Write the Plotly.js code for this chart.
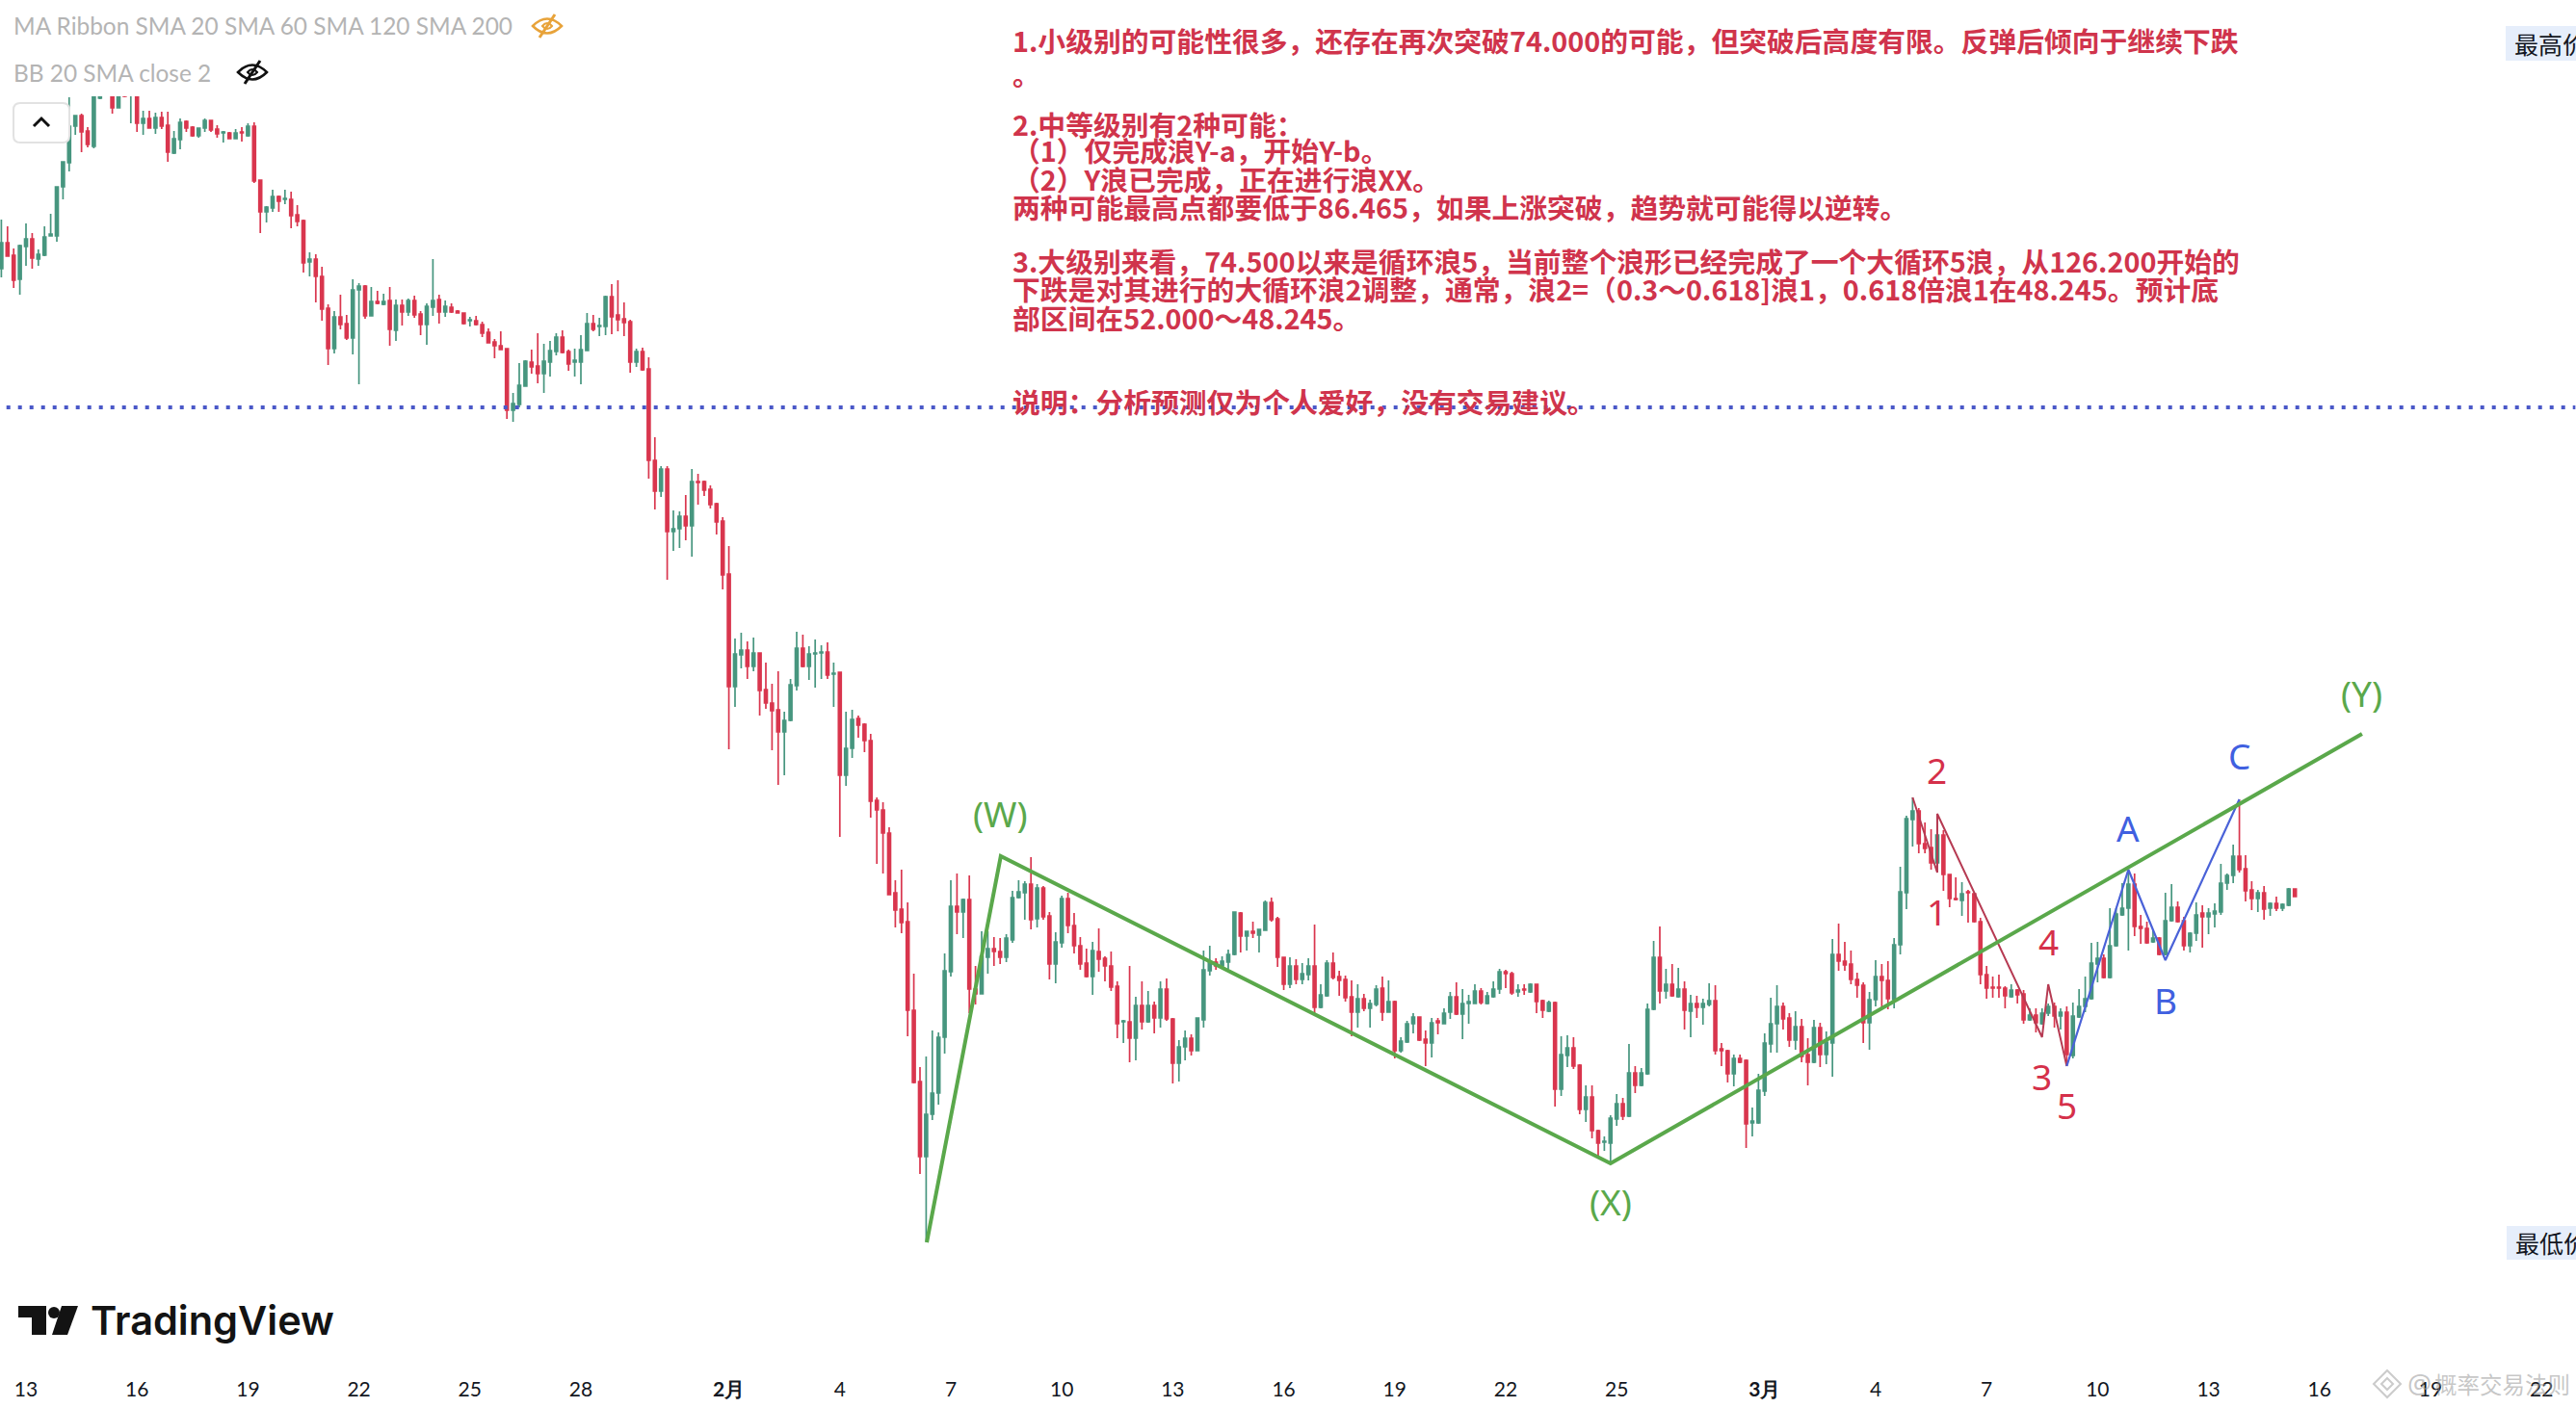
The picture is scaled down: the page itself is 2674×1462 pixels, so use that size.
<!DOCTYPE html>
<html><head><meta charset="utf-8">
<script src="https://cdn.plot.ly/plotly-3.0.1.min.js"></script>
<style>html,body{margin:0;padding:0;background:#fff;overflow:hidden}#c{width:2674px;height:1462px}</style>
</head><body><div id="c"></div>
<script>
// Candle values in price ticks. price = tickBase + tick * tickSize. 4-hour bars; the first bar opens 2023-01-12 08:00.
const tickBase = 59.54, tickSize = 0.025;
const firstBar = Date.UTC(2023,0,12,8), barMs = 4*3600*1000;
const opens = [1221,1248,1235,1210,1244,1252,1231,1235,1255,1255,
1306,1331,1369,1380,1364,1348,1398,1404,1415,1388,
1420,1404,1415,1372,1377,1367,1378,1370,1341,1355,
1374,1368,1359,1367,1375,1366,1362,1362,1356,1363,
1359,1369,1313,1280,1284,1296,1293,1293,1277,1271,
1228,1231,1213,1180,1138,1171,1164,1149,1199,1203,
1172,1187,1184,1188,1157,1183,1176,1188,1174,1163,
1181,1189,1176,1181,1177,1175,1167,1167,1163,1155,
1145,1141,1138,1074,1080,1099,1124,1120,1112,1124,
1135,1150,1135,1124,1124,1136,1164,1161,1161,1192,
1173,1169,1166,1124,1135,1117,1022,990,1013,948,
951,964,954,1000,1000,992,977,959,904,787,
820,825,808,822,784,770,763,740,752,788,
827,808,821,822,823,800,802,695,723,754,
748,731,669,659,635,573,556,543,451,377,
299,343,365,423,491,559,553,566,473,468,
506,515,512,506,524,568,573,582,546,578,
549,499,521,567,539,518,500,486,512,505,
497,476,439,439,422,456,439,456,443,473,
442,396,413,422,409,441,492,501,497,501,
509,552,528,533,529,534,563,546,506,478,
497,483,488,497,454,466,500,486,483,465,
449,463,453,457,474,449,460,409,418,437,
444,421,417,440,437,449,465,447,458,458,
471,458,465,473,491,489,470,473,470,478,
461,450,459,369,404,412,394,348,361,326,
314,313,338,354,341,386,373,385,452,506,
471,478,465,473,450,458,454,457,461,411,
409,385,401,399,334,334,367,416,437,455,
443,420,434,405,397,433,405,417,509,502,
499,483,477,438,462,486,482,462,519,573,
649,658,624,620,604,633,592,567,565,574,
572,543,488,475,475,474,465,472,468,441,
446,437,448,455,445,449,404,444,455,463,
499,505,485,518,550,557,582,538,536,522,
526,509,544,558,544,518,531,552,548,551,
553,583,591,611,598,576,567,573,557,562,
557,560,577];
const highs = [1272,1265,1242,1246,1268,1258,1241,1265,1278,1306,
1332,1399,1380,1382,1368,1412,1420,1430,1425,1425,
1430,1432,1420,1385,1385,1383,1384,1384,1364,1377,
1375,1369,1367,1377,1375,1370,1364,1363,1366,1368,
1372,1373,1313,1286,1303,1297,1303,1301,1287,1272,
1238,1236,1223,1184,1177,1194,1173,1210,1206,1204,
1202,1198,1195,1202,1189,1189,1190,1193,1177,1185,
1231,1194,1188,1185,1178,1175,1171,1172,1166,1159,
1148,1156,1138,1092,1123,1126,1137,1154,1143,1146,
1154,1157,1137,1138,1152,1175,1173,1170,1193,1205,
1209,1186,1168,1138,1139,1129,1046,1016,1016,970,
969,986,1013,1008,1001,996,978,963,933,837,
843,834,838,822,812,790,803,761,795,844,
841,829,836,830,833,812,802,761,763,757,
749,738,672,667,641,586,597,563,489,392,
403,430,428,510,586,593,567,591,497,533,
533,527,526,530,575,586,585,610,582,580,
553,532,570,573,552,527,515,522,536,507,
512,481,441,497,465,481,471,460,481,484,
443,420,430,426,443,513,518,505,507,514,
553,553,533,543,535,565,568,548,506,506,
504,500,505,540,478,503,511,492,487,482,
478,468,462,477,486,482,461,423,440,448,
444,430,443,443,453,470,480,473,467,478,
474,470,481,494,493,491,478,478,479,478,
462,461,460,424,425,423,395,373,373,327,
320,342,364,360,416,393,391,458,523,538,
494,499,495,481,467,466,463,479,477,417,
410,405,405,400,350,385,427,464,477,459,
448,450,442,422,441,438,429,525,541,522,
513,490,480,470,503,499,502,526,600,653,
672,661,646,639,655,638,592,589,584,576,
573,547,497,486,488,476,478,473,472,453,
453,453,458,459,453,455,459,473,486,521,
522,509,557,557,583,596,593,550,543,535,
527,573,582,564,548,532,563,560,557,562,
603,593,623,670,612,585,576,580,563,569,
562,578,577];
const lows = [1212,1234,1201,1194,1224,1221,1224,1234,1255,1249,
1293,1322,1360,1342,1347,1346,1397,1403,1382,1388,
1399,1372,1363,1360,1367,1361,1366,1332,1340,1345,
1363,1358,1357,1363,1363,1357,1352,1356,1356,1353,
1358,1310,1258,1269,1280,1280,1288,1263,1265,1217,
1213,1186,1167,1121,1133,1158,1147,1132,1101,1169,
1172,1184,1183,1141,1146,1162,1172,1170,1152,1142,
1172,1164,1171,1175,1175,1163,1161,1162,1150,1144,
1128,1137,1065,1062,1077,1099,1112,1102,1092,1109,
1131,1133,1115,1109,1101,1136,1156,1151,1152,1153,
1156,1151,1113,1119,1115,1003,971,984,898,928,
931,939,922,976,985,972,945,888,722,766,
806,795,803,757,764,721,685,695,751,783,
807,794,786,795,795,766,631,684,713,734,
719,651,603,593,571,537,531,424,375,281,
210,337,353,406,486,530,526,448,457,468,
489,497,499,501,521,567,545,535,537,545,
483,479,516,531,510,493,485,467,491,481,
471,422,417,397,399,431,438,427,433,440,
375,377,399,404,409,433,487,493,496,494,
508,511,513,526,511,534,543,496,472,474,
478,478,482,447,453,465,483,466,460,424,
433,450,433,455,440,449,401,407,417,427,
419,393,402,426,437,442,446,421,437,458,
457,457,464,468,474,467,465,467,469,448,
443,449,351,362,392,390,343,335,318,298,
305,292,331,337,340,365,372,384,451,458,
463,465,464,431,423,443,436,455,405,393,
376,372,396,308,320,333,362,407,407,431,
413,410,397,373,396,392,395,382,492,492,
478,464,417,410,455,452,452,453,509,556,
621,614,614,597,595,575,558,565,549,542,
542,478,463,464,464,453,464,458,437,440,
428,436,445,433,431,393,401,443,449,462,
480,484,484,517,549,513,528,520,520,521,
508,508,543,542,513,511,523,516,530,537,
550,576,583,594,564,555,553,545,549,554,
554,559,569];
const closes = [1248,1234,1209,1245,1252,1232,1236,1254,1257,1306,
1332,1369,1380,1363,1350,1410,1415,1412,1388,1420,
1400,1418,1372,1377,1367,1378,1369,1342,1356,1373,
1367,1359,1367,1375,1365,1361,1363,1356,1362,1362,
1369,1312,1280,1285,1296,1291,1294,1276,1270,1227,
1231,1213,1179,1138,1171,1163,1149,1199,1203,1172,
1187,1185,1187,1158,1183,1176,1188,1173,1163,1182,
1188,1176,1182,1176,1175,1164,1168,1163,1154,1144,
1141,1137,1074,1081,1100,1125,1119,1112,1125,1136,
1150,1134,1122,1126,1137,1164,1158,1162,1192,1171,
1168,1165,1124,1135,1116,1022,990,1013,948,951,
964,954,1000,999,991,976,958,903,787,821,
825,808,822,783,770,762,740,752,789,827,
808,821,822,823,799,801,695,723,753,747,
731,668,659,635,571,555,542,451,376,299,
343,365,423,492,559,553,566,473,468,507,
515,512,506,526,568,574,582,545,578,548,
499,522,567,539,518,499,486,513,504,497,
475,437,440,422,456,439,456,443,473,442,
396,413,422,409,443,493,502,497,502,509,
553,528,533,531,535,563,545,506,478,497,
483,489,497,454,467,500,485,482,464,449,
463,453,458,473,449,460,409,419,437,444,
420,417,438,438,448,465,447,458,460,471,
459,466,473,491,489,469,472,472,478,460,
451,459,369,405,412,393,348,361,326,313,
315,339,354,341,386,373,386,452,506,471,
478,466,473,451,458,454,458,461,409,409,
385,401,397,333,336,368,417,437,455,442,
420,434,403,397,433,405,418,509,502,498,
483,477,438,462,486,482,463,519,574,650,
658,624,619,604,633,592,567,566,572,573,
543,488,474,474,474,466,472,467,441,446,
438,448,455,445,449,405,445,455,463,500,
505,485,518,551,557,582,538,536,521,526,
509,544,558,543,518,531,550,548,552,554,
583,591,611,597,575,567,573,556,562,557,
561,577,569];

// Elliott-wave drawings: bar number (0 = first bar) and price tick
const wxyBars = [150.1,162.1,261,382.9];
const wxyTicks = [210,611,292,738];
const impulseBars = [310,314,314,331,332,335];
const impulseTicks = [672,594,655,423,478,393];
const abcBars = [335,345,351,363];
const abcTicks = [393,597,503,670];
const resistanceTick = 1077;
const resistanceBars = [0.83,417.5];

const waveLabels = ['(W)','(X)','(Y)','2','1','4','3','5','A','B','C'];
const labelBars = [162.1,261,382.9,314,314,332,331,335,345,351,363];
const labelTicks = [656,253,781,701,554,523,383,353,641,462,716];
const labelKinds = ['g','g','g','r','r','r','r','r','b','b','b'];

const tickDates = ['2023-01-13','2023-01-16','2023-01-19','2023-01-22','2023-01-25','2023-01-28','2023-02-01','2023-02-04','2023-02-07','2023-02-10','2023-02-13','2023-02-16','2023-02-19','2023-02-22','2023-02-25','2023-03-01','2023-03-04','2023-03-07','2023-03-10','2023-03-13','2023-03-16','2023-03-19','2023-03-22'];
const tickLabels = ['13','16','19','22','25','28','<b>2月</b>','4','7','10','13','16','19','22','25','<b>3月</b>','4','7','10','13','16','19','22'];

const noteLines = ['1.小级别的可能性很多，还存在再次突破74.000的可能，但突破后高度有限。反弹后倾向于继续下跌','。','2.中等级别有2种可能：','（1）仅完成浪Y-a，开始Y-b。','（2）Y浪已完成，正在进行浪XX。','两种可能最高点都要低于86.465，如果上涨突破，趋势就可能得以逆转。','3.大级别来看，74.500以来是循环浪5，当前整个浪形已经完成了一个大循环5浪，从126.200开始的','下跌是对其进行的大循环浪2调整，通常，浪2=（0.3～0.618]浪1，0.618倍浪1在48.245。预计底','部区间在52.000～48.245。','说明：分析预测仅为个人爱好，没有交易建议。'];
const noteYs = [41,77,128,156,185,214,271,300,329,416];

const W=2674,H=1462,TOP=100,BOT=1425;
const RED='#D9364E',GREEN='#47967F',LINEG='#5AA84B',LINER='#B63A52',LINEB='#4A62D8',NOTE='#D0344C';
const price=t=>tickBase+t*tickSize;
const dateOf=b=>new Date(firstBar+b*barMs).toISOString();
const px=x=>x/W, py=y=>(BOT-y)/(BOT-TOP);
const bars=opens.map((_,i)=>dateOf(i));

const lineTrace=(bs,ts,color,width,dash)=>({type:'scatter',mode:'lines',x:bs.map(dateOf),y:ts.map(price),line:{color,width,dash:dash||'solid'},hoverinfo:'skip',showlegend:false});

const data=[
 {type:'candlestick',x:bars,open:opens.map(price),high:highs.map(price),low:lows.map(price),close:closes.map(price),
  increasing:{line:{color:GREEN,width:1.7},fillcolor:GREEN},decreasing:{line:{color:RED,width:1.7},fillcolor:RED},showlegend:false,hoverinfo:'skip'},
 lineTrace(resistanceBars,[resistanceTick,resistanceTick],'#4A58C8',4,'4px,8px'),
 lineTrace(impulseBars,impulseTicks,LINER,2),
 lineTrace(abcBars,abcTicks,LINEB,2.2),
 lineTrace(wxyBars,wxyTicks,LINEG,4)
];

const colorOf={g:LINEG,r:'#D5304A',b:'#4060E0'};
const annotations=[];
waveLabels.forEach((t,i)=>annotations.push({text:t,x:dateOf(labelBars[i]),y:price(labelTicks[i]),xref:'x',yref:'y',showarrow:false,xanchor:'center',yanchor:'middle',font:{family:'Noto Sans',size:37,color:colorOf[labelKinds[i]]}}));
noteLines.forEach((t,i)=>annotations.push({text:t,x:px(1049),y:py(noteYs[i]),xref:'paper',yref:'paper',showarrow:false,xanchor:'left',yanchor:'middle',align:'left',font:{family:'Noto Sans CJK SC',size:28.8,color:NOTE,weight:700}}));
const pt=(text,x,y,font,anchor)=>annotations.push({text,x:px(x),y:py(y),xref:'paper',yref:'paper',showarrow:false,xanchor:anchor||'left',yanchor:'middle',font});
pt('MA Ribbon SMA 20 SMA 60 SMA 120 SMA 200',12,27,{family:'Lato',size:24.4,color:'#B4B4B4'});
pt('BB 20 SMA close 2',12,75,{family:'Lato',size:24.4,color:'#B4B4B4'});
pt('TradingView',92,1371,{family:'Inter',size:41.5,color:'#131313',weight:600});
pt('最高价',2608,45,{family:'Noto Sans CJK SC',size:25,color:'#131722'});
pt('最低价',2609,1290,{family:'Noto Sans CJK SC',size:25,color:'#131722'});
pt('概率交易法则',2525,1437,{family:'Noto Sans CJK SC',size:23.5,color:'rgba(150,150,150,0.55)'});
pt('@',2497,1436,{family:'Noto Sans',size:28,color:'rgba(150,150,150,0.55)'});

const path=(pts)=>({type:'path',xref:'paper',yref:'paper',path:pts});
const P=(x,y)=>`${px(x)},${py(y)}`;
const eye=(cx,cy,color)=>[
 {...path(`M${P(cx-15,cy)} Q${P(cx,cy-15)} ${P(cx+15,cy)} Q${P(cx,cy+15)} ${P(cx-15,cy)} Z`),line:{color,width:2.5},fillcolor:'rgba(0,0,0,0)'},
 {...path(`M${P(cx+8,cy-12)} L${P(cx-8,cy+12)}`),line:{color,width:3}},
 {...path(`M${P(cx-5,cy)} Q${P(cx,cy-6)} ${P(cx+5,cy)} Q${P(cx,cy+6)} ${P(cx-5,cy)} Z`),line:{color,width:2},fillcolor:'rgba(0,0,0,0)'}
];
const shapes=[
 ...eye(568,27,'#E8A33A'),...eye(262,75,'#111'),
 {...path(`M${P(21,107)} L${P(65,107)} Q${P(72,107)} ${P(72,114)} L${P(72,141)} Q${P(72,148)} ${P(65,148)} L${P(21,148)} Q${P(14,148)} ${P(14,141)} L${P(14,114)} Q${P(14,107)} ${P(21,107)} Z`),line:{color:'#E2E2E2',width:2},fillcolor:'#fff'},
 {...path(`M${P(35,131)} L${P(43,123)} L${P(51,131)}`),line:{color:'#111',width:3}},
 {...path(`M${P(19,1356)} L${P(48,1356)} L${P(48,1386)} L${P(33,1386)} L${P(33,1368)} L${P(19,1368)} Z`),line:{width:0},fillcolor:'#131313'},
 {type:'circle',xref:'paper',yref:'paper',x0:px(50),x1:px(62),y0:py(1357),y1:py(1369),line:{width:0},fillcolor:'#131313'},
 {...path(`M${P(64,1356)} L${P(81,1356)} L${P(70,1386)} L${P(54,1386)} Z`),line:{width:0},fillcolor:'#131313'},
 {type:'rect',xref:'paper',yref:'paper',x0:px(2601),x1:px(2680),y0:py(27),y1:py(63),line:{width:0},fillcolor:'#E6EEFB',layer:'below'},
 {type:'rect',xref:'paper',yref:'paper',x0:px(2602),x1:px(2680),y0:py(1273),y1:py(1308),line:{width:0},fillcolor:'#E6EEFB',layer:'below'},
 {...path(`M${P(2478,1423)} L${P(2492,1437)} L${P(2478,1451)} L${P(2464,1437)} Z`),line:{color:'rgba(160,160,160,0.55)',width:2},fillcolor:'rgba(0,0,0,0)'},
 {...path(`M${P(2478,1431)} L${P(2484,1437)} L${P(2478,1443)} L${P(2472,1437)} Z`),line:{color:'rgba(160,160,160,0.55)',width:2},fillcolor:'rgba(0,0,0,0)'}
];

const layout={
 width:W,height:H,margin:{l:0,r:0,t:TOP,b:H-BOT,pad:0},paper_bgcolor:'#fff',plot_bgcolor:'#fff',showlegend:false,boxgap:0.35,
 xaxis:{type:'date',range:[dateOf(-0.219),dateOf(417.6)],rangeslider:{visible:false},showgrid:false,zeroline:false,showline:false,ticks:'',tickmode:'array',tickvals:tickDates,ticktext:tickLabels,tickangle:0,tickfont:{family:'Lato',size:21,color:'#131722'},ticklabelstandoff:3},
 yaxis:{visible:false,range:[price(75),price(1400)],showgrid:false,zeroline:false,fixedrange:true},
 annotations,shapes
};
Plotly.newPlot('c',data,layout,{displayModeBar:false,staticPlot:true});
</script></body></html>
